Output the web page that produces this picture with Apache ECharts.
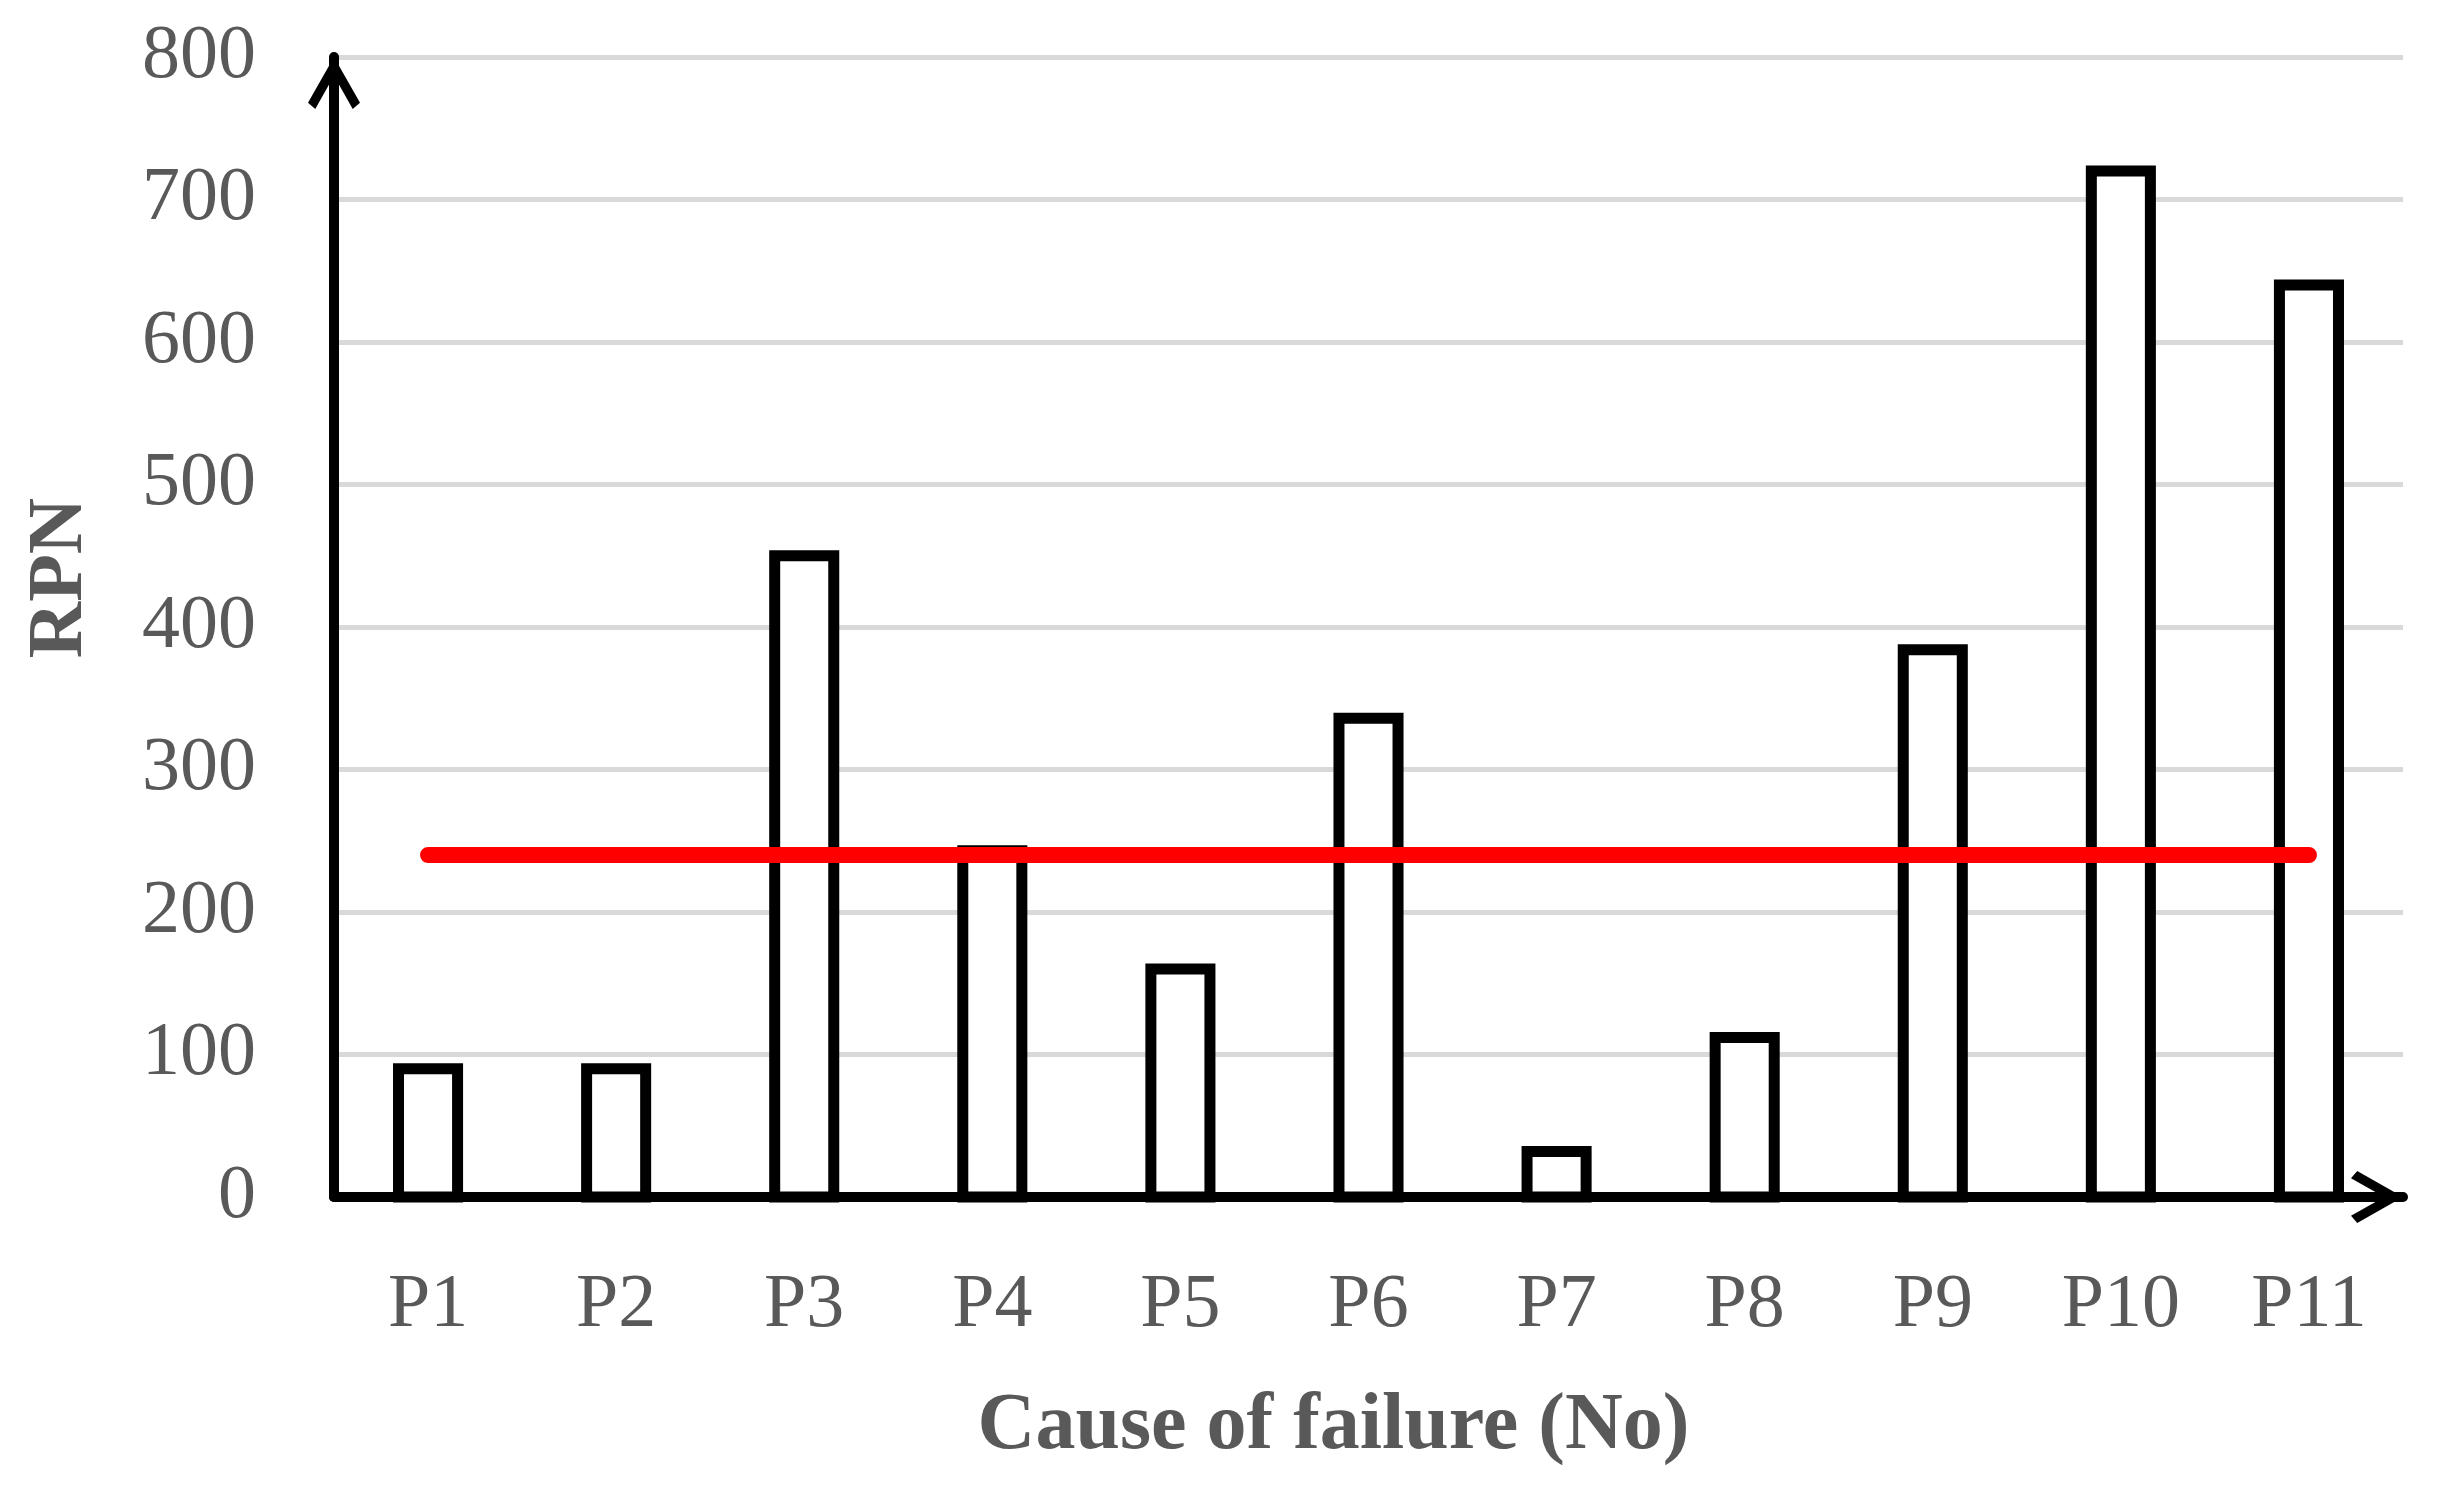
<!DOCTYPE html>
<html>
<head>
<meta charset="utf-8">
<script src="https://cdn.jsdelivr.net/npm/echarts@6/dist/echarts.min.js"></script>
<style>
html,body{margin:0;padding:0;background:#fff;}
#chart{width:2459px;height:1487px;}
</style>
</head>
<body>
<div id="chart"></div>
<script>
const categories = ['P1','P2','P3','P4','P5','P6','P7','P8','P9','P10','P11'];
const rpnValues = [90, 90, 450, 243, 160, 336, 32, 112, 384, 720, 640];
const thresholdValues = [240, 240, 240, 240, 240, 240, 240, 240, 240, 240, 240];
const yTicks = {min: 0, max: 800, interval: 100};

const chevron = 'path://M50,0 L100,88 L86,100 L50,36 L14,100 L0,88 Z';
const labelColor = '#595959';
const serif = '"Liberation Serif", "DejaVu Serif", serif';
const barFraction = 0.314;

const chart = echarts.init(document.getElementById('chart'));
chart.setOption({
  animation: false,
  backgroundColor: '#ffffff',
  grid: {left: 334, right: 56, top: 57, bottom: 290, containLabel: false},
  xAxis: {
    type: 'category',
    data: categories,
    boundaryGap: true,
    axisLine: {
      show: true, onZero: false,
      lineStyle: {color: '#000', width: 10},
      symbol: ['none', chevron],
      symbolSize: [54, 52],
      symbolOffset: [0, -26]
    },
    axisTick: {show: false},
    axisLabel: {color: labelColor, fontSize: 76, fontFamily: serif, margin: 71},
    name: 'Cause of failure (No)',
    nameLocation: 'middle',
    nameGap: 190,
    nameTextStyle: {color: labelColor, fontSize: 80, fontWeight: 'bold', fontFamily: serif, padding: [0, 70, 0, 0]}
  },
  yAxis: {
    type: 'value',
    min: yTicks.min, max: yTicks.max, interval: yTicks.interval,
    axisLine: {
      show: true,
      lineStyle: {color: '#000', width: 10},
      symbol: ['none', chevron],
      symbolSize: [54, 52],
      symbolOffset: [0, -26]
    },
    axisTick: {show: false},
    splitLine: {show: true, lineStyle: {color: '#d9d9d9', width: 5}},
    axisLabel: {color: labelColor, fontSize: 76, fontFamily: serif, margin: 78},
    name: 'RPN',
    nameLocation: 'middle',
    nameGap: 234,
    nameTextStyle: {color: labelColor, fontSize: 78, fontWeight: 'bold', fontFamily: serif, padding: [0, 0, 0, 98]}
  },
  series: [
    {
      type: 'custom',
      name: 'RPN',
      data: rpnValues.map((v, i) => [i, v]),
      encode: {x: 0, y: 1},
      z: 3,
      renderItem: function (params, api) {
        const top = api.coord([api.value(0), api.value(1)]);
        const base = api.coord([api.value(0), 0]);
        const w = api.size([1, 0])[0] * barFraction;
        return {
          type: 'rect',
          shape: {x: top[0] - w / 2, y: top[1], width: w, height: base[1] - top[1]},
          style: {fill: '#ffffff', stroke: '#000000', lineWidth: 11, lineJoin: 'miter'}
        };
      }
    },
    {
      type: 'line',
      data: thresholdValues,
      symbol: 'none',
      lineStyle: {color: '#ff0000', width: 16, cap: 'round'},
      z: 4
    }
  ]
});
</script>
</body>
</html>
